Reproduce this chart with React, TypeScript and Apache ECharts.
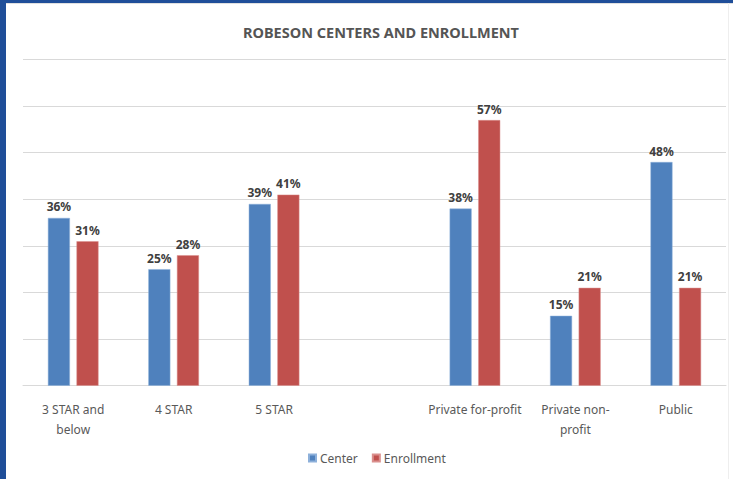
import React, { useEffect, useRef } from "react";
import * as echarts from "echarts";

const categories = ["3 STAR and\nbelow", "4 STAR", "5 STAR", "", "Private for-profit", "Private non-\nprofit", "Public"];
const centerValues: (number | string)[] = [36, 25, 39, "-", 38, 15, 48];
const enrollmentValues: (number | string)[] = [31, 28, 41, "-", 57, 21, 21];
const seriesNames = ["Center", "Enrollment"];
const titleText = "ROBESON CENTERS AND ENROLLMENT";

const FONT = "'Noto Sans', 'Open Sans', sans-serif";

export default function App() {
  const ref = useRef<HTMLDivElement>(null);
  useEffect(() => {
    if (!ref.current) return;
    const chart = echarts.init(ref.current, undefined, { renderer: "svg" });
    const label = {
      show: true,
      position: "top" as const,
      distance: 5,
      formatter: (p: any) => p.value + "%",
      color: "#404040",
      fontWeight: "bold" as const,
      fontSize: 12,
      fontFamily: FONT,
    };
    chart.setOption({
      animation: false,
      backgroundColor: "#ffffff",
      title: {
        text: titleText,
        left: 238,
        top: 19,
        textStyle: { color: "#555555", fontSize: 14.5, fontWeight: "bold", fontFamily: FONT },
      },
      legend: {
        data: seriesNames,
        bottom: 10,
        left: 303,
        itemWidth: 7,
        itemHeight: 7,
        itemGap: 14,
        icon: "rect",
        textStyle: { color: "#595959", fontSize: 12, fontFamily: FONT, padding: [0, 0, 0, -1] },
      },
      grid: { left: 23, right: 7, top: 59.5, bottom: 93.3, containLabel: false },
      xAxis: {
        type: "category",
        data: categories,
        axisLine: { lineStyle: { color: "#D9D9D9" } },
        axisTick: { show: false },
        axisLabel: {
          color: "#595959",
          fontSize: 12,
          fontFamily: FONT,
          interval: 0,
          margin: 14,
          lineHeight: 20,
        },
      },
      yAxis: {
        type: "value",
        min: 0,
        max: 70,
        interval: 10,
        axisLabel: { show: false },
        axisLine: { show: false },
        axisTick: { show: false },
        splitLine: { lineStyle: { color: "#D9D9D9", width: 1 } },
      },
      series: [
        {
          name: seriesNames[0],
          type: "bar",
          data: centerValues,
          barWidth: 22,
          barGap: "30%",
          itemStyle: { color: "#4F81BD", borderColor: "#8DB0DA", borderWidth: 0.5 },
          label,
        },
        {
          name: seriesNames[1],
          type: "bar",
          data: enrollmentValues,
          barWidth: 22,
          itemStyle: { color: "#C0504D", borderColor: "#DA8F8D", borderWidth: 0.5 },
          label,
        },
      ],
      graphic: [
        { type: "rect", shape: { x: 0, y: 0, width: 733, height: 3 }, style: { fill: "#1F4E99" } },
        { type: "rect", shape: { x: 0, y: 0, width: 6, height: 479 }, style: { fill: "#1F4E99" } },
        { type: "line", shape: { x1: 6, y1: 3.5, x2: 733, y2: 3.5 }, style: { stroke: "#E0E0E0", lineWidth: 1 } },
        { type: "line", shape: { x1: 728.5, y1: 3, x2: 728.5, y2: 479 }, style: { stroke: "#EEEEEE", lineWidth: 1 } },
      ],
    });
    return () => chart.dispose();
  }, []);
  return (
    <div
      ref={ref}
      style={{ position: "fixed", left: 0, top: 0, width: 733, height: 479 }}
    />
  );
}
